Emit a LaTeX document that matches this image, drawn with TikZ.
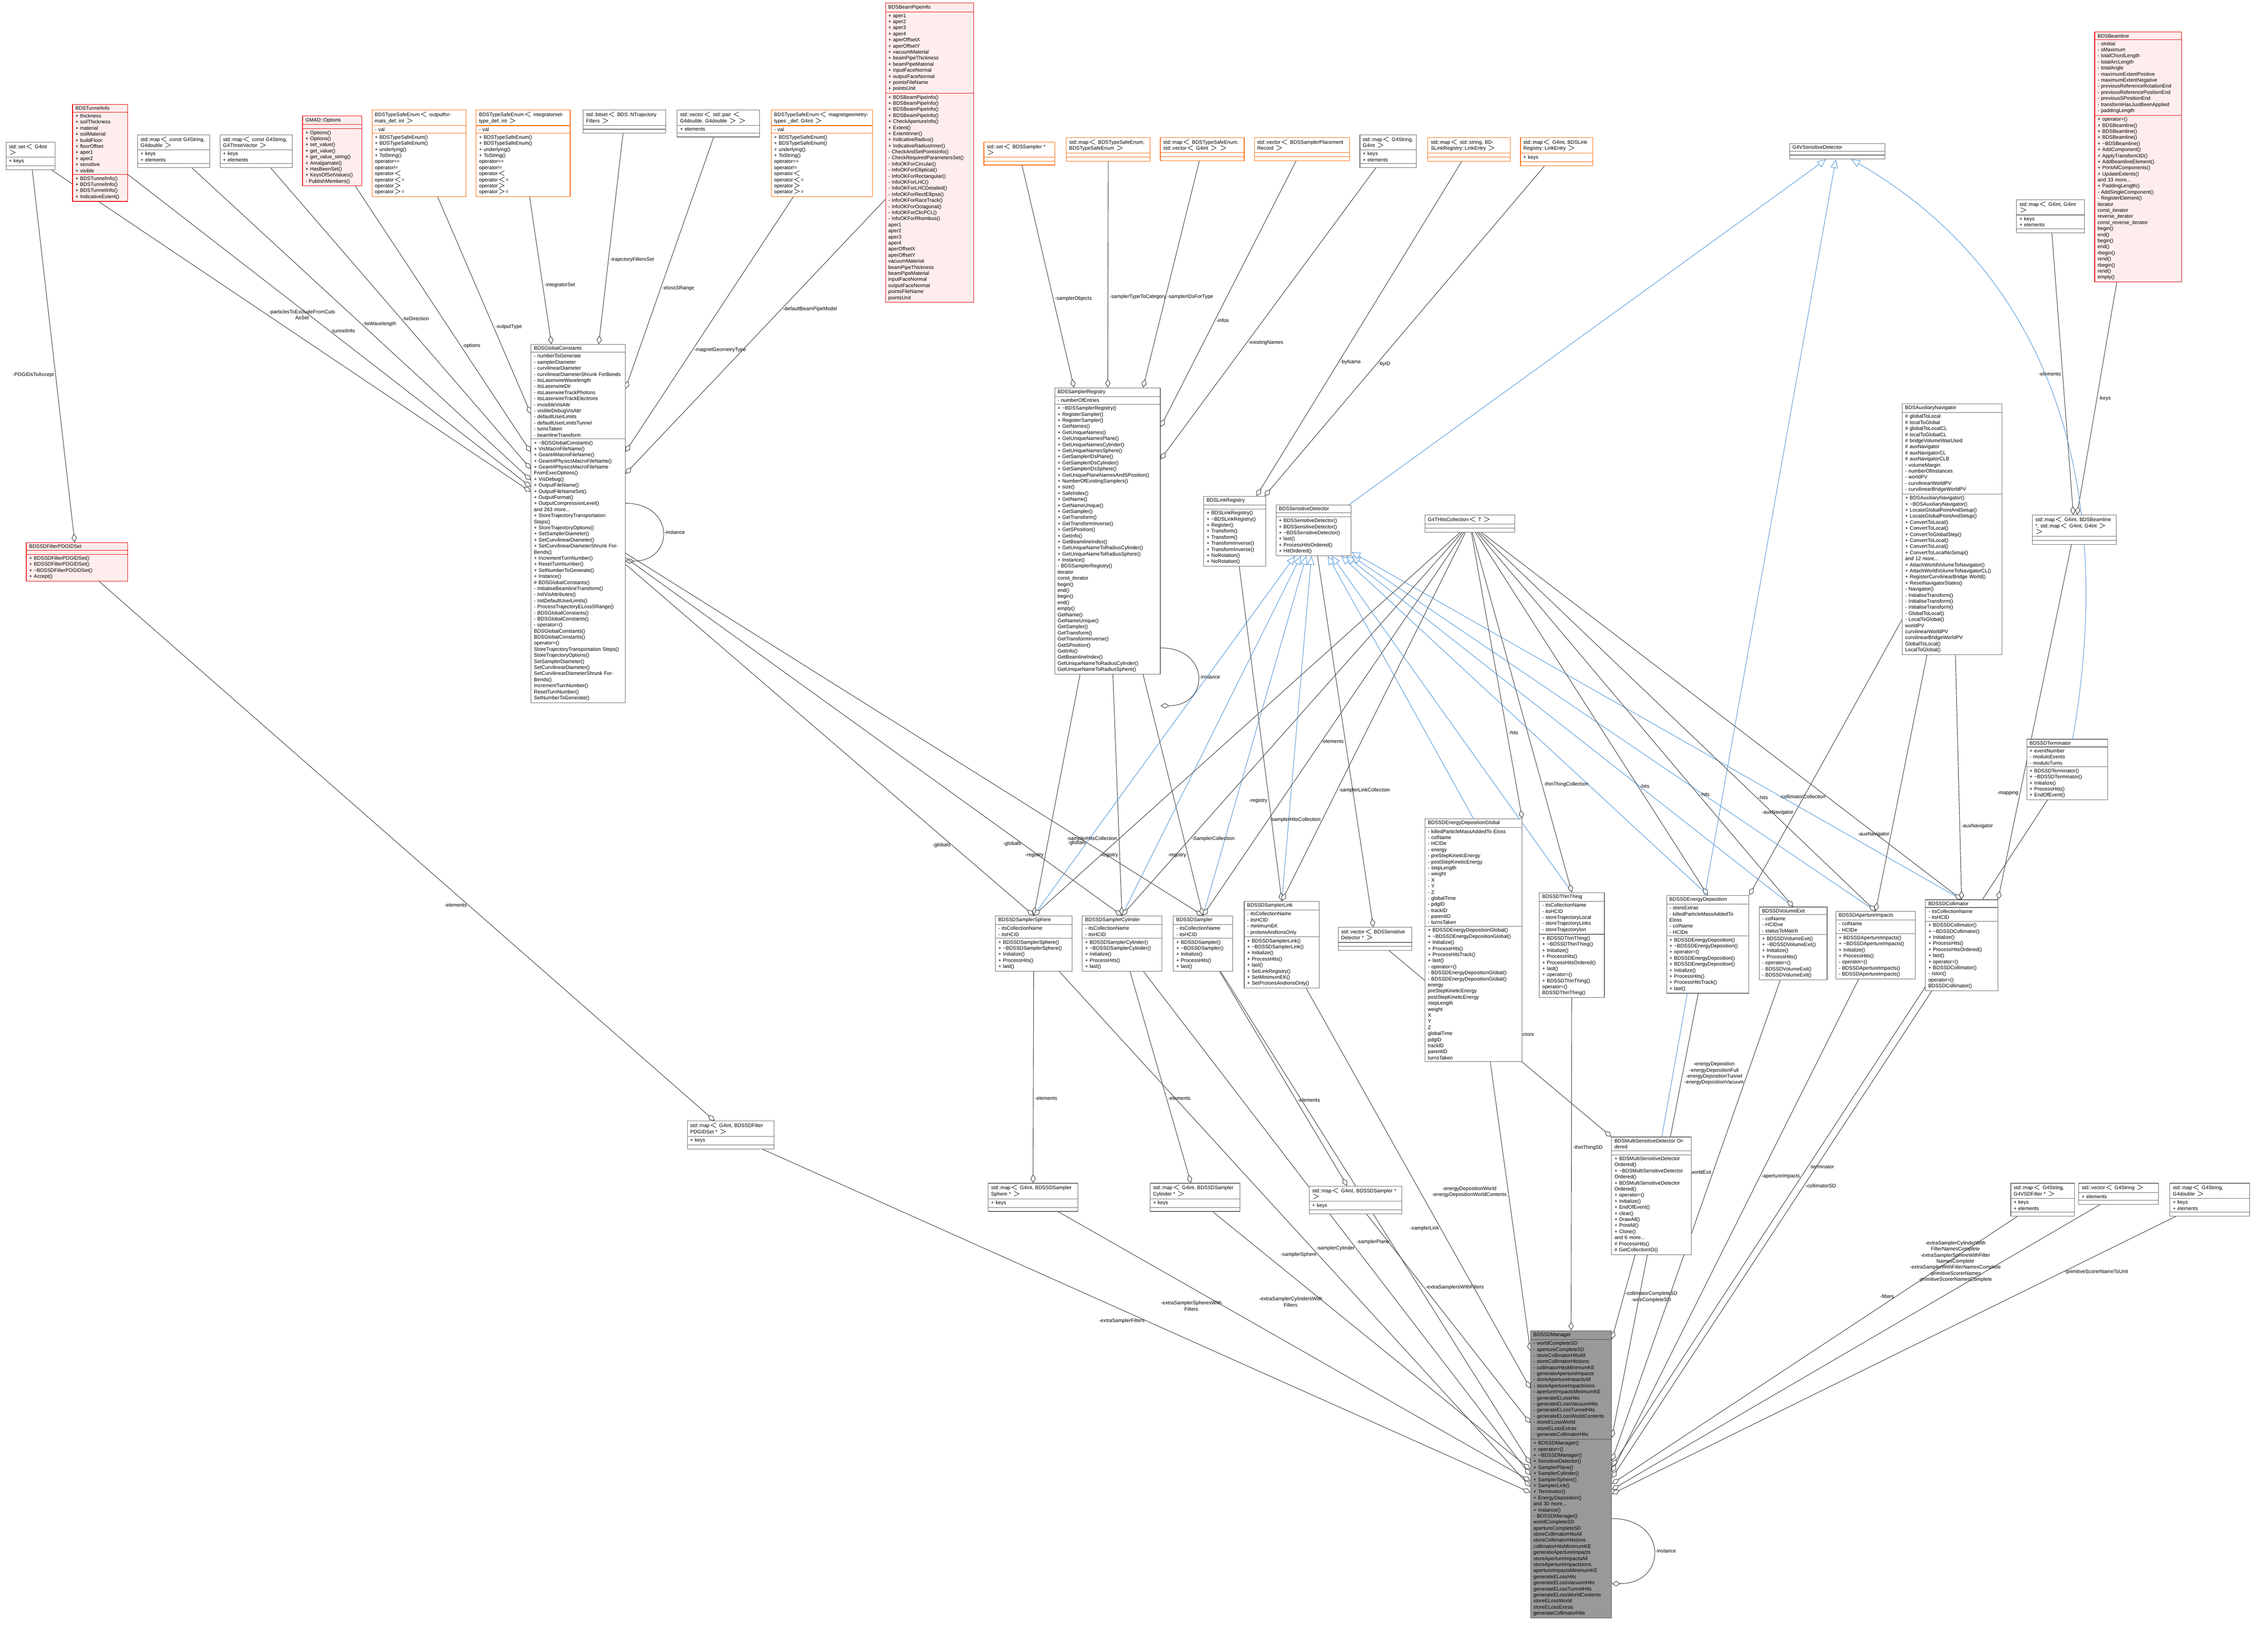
\documentclass[tikz,border=0pt]{standalone}
\usepackage{fontspec}
\setmainfont{Liberation Sans}
\usetikzlibrary{shapes.multipart,arrows.meta}
\pgfdeclarelayer{bg}\pgfsetlayers{bg,main}
\newcommand\tl{\textasciitilde}
\tikzset{
 cls/.style={rectangle split, rectangle split parts=3, draw=black!60, line width=0.35pt, fill=white,
   font=\fontsize{3.5}{4.2}\selectfont, inner xsep=2pt, inner ysep=1.2pt, anchor=north west,
   rectangle split part align={center,left,left}, rectangle split empty part height=6pt},
 redc/.style={draw=red!90!black, fill=red!7},
 orgc/.style={draw=orange!80!red},
 darkc/.style={fill=black!40, draw=black!70},
 agg/.style={draw=black!75, line width=0.35pt, -{Diamond[open,fill=white,length=6pt,width=3.6pt]}},
 inh/.style={draw=cyan!60!blue!70, line width=0.35pt, {Triangle[open,fill=white,length=6pt,width=5pt]}-},
 lbl/.style={font=\fontsize{3.5}{4.2}\selectfont, align=center, inner sep=1pt},
}
\newcommand\cls[7]{\node[cls,#1,text width=#4pt] (#2) at (#3) {#5\nodepart{two}#6\nodepart{three}#7};}
\begin{document}
\begin{tikzpicture}[x=1pt,y=-1pt]
\useasboundingbox (0,0) rectangle (1568,1127);
% ---------- top row
\cls{}{setint}{4,98}{30}{std::set$<$ G4int $>$}{+ keys}{}
\cls{redc}{tunnel}{50,72}{34}{BDSTunnelInfo}{+ thickness\\+ soilThickness\\+ material\\+ soilMaterial\\+ buildFloor\\+ floorOffset\\+ aper1\\+ aper2\\+ sensitive\\+ visible}{+ BDSTunnelInfo()\\+ BDSTunnelInfo()\\+ BDSTunnelInfo()\\+ IndicativeExtent()}
\cls{}{mapsd}{95,93}{46}{std::map$<$ const G4String, G4double $>$}{+ keys\\+ elements}{}
\cls{}{mapstv}{152,93}{46}{std::map$<$ const G4String, G4ThreeVector $>$}{+ keys\\+ elements}{}
\cls{redc}{opts}{209,80}{37}{GMAD::Options}{}{+ Options()\\+ Options()\\+ set\_value()\\+ get\_value()\\+ get\_value\_string()\\+ Amalgamate()\\+ HasBeenSet()\\+ KeysOfSetValues()\\- PublishMembers()}
\cls{orgc}{tseout}{257,76}{61}{BDSTypeSafeEnum$<$ outputformats\_def, int $>$}{- val}{+ BDSTypeSafeEnum()\\+ BDSTypeSafeEnum()\\+ underlying()\\+ ToString()\\* operator==\\* operator!=\\* operator$<$\\* operator$<$=\\* operator$>$\\* operator$>$=}
\cls{orgc}{tseint}{329,76}{61}{BDSTypeSafeEnum$<$ integratorsettype\_def, int $>$}{- val}{+ BDSTypeSafeEnum()\\+ BDSTypeSafeEnum()\\+ underlying()\\+ ToString()\\* operator==\\* operator!=\\* operator$<$\\* operator$<$=\\* operator$>$\\* operator$>$=}
\cls{}{bitset}{403,76}{53}{std::bitset$<$ BDS::NTrajectory Filters $>$}{}{}
\cls{}{vecpair}{468,76}{53}{std::vector$<$ std::pair $<$ G4double, G4double $>$ $>$}{+ elements}{}
\cls{orgc}{tsemag}{533,76}{66}{BDSTypeSafeEnum$<$ magnetgeometrytypes \_def, G4int $>$}{- val}{+ BDSTypeSafeEnum()\\+ BDSTypeSafeEnum()\\+ underlying()\\+ ToString()\\* operator==\\* operator!=\\* operator$<$\\* operator$<$=\\* operator$>$\\* operator$>$=}
\cls{redc}{bpinfo}{612,2}{57}{BDSBeamPipeInfo}{+ aper1\\+ aper2\\+ aper3\\+ aper4\\+ aperOffsetX\\+ aperOffsetY\\+ vacuumMaterial\\+ beamPipeThickness\\+ beamPipeMaterial\\+ inputFaceNormal\\+ outputFaceNormal\\+ pointsFileName\\+ pointsUnit}{+ BDSBeamPipeInfo()\\+ BDSBeamPipeInfo()\\+ BDSBeamPipeInfo()\\+ BDSBeamPipeInfo()\\+ CheckApertureInfo()\\+ Extent()\\+ ExtentInner()\\+ IndicativeRadius()\\+ IndicativeRadiusInner()\\- CheckAndSetPointsInfo()\\- CheckRequiredParametersSet()\\- InfoOKForCircular()\\- InfoOKForElliptical()\\- InfoOKForRectangular()\\- InfoOKForLHC()\\- InfoOKForLHCDetailed()\\- InfoOKForRectEllipse()\\- InfoOKForRaceTrack()\\- InfoOKForOctagonal()\\- InfoOKForClicPCL()\\- InfoOKForRhombus()\\* aper1\\* aper2\\* aper3\\* aper4\\* aperOffsetX\\* aperOffsetY\\* vacuumMaterial\\* beamPipeThickness\\* beamPipeMaterial\\* inputFaceNormal\\* outputFaceNormal\\* pointsFileName\\* pointsUnit}
\cls{orgc}{setsam}{680,98}{45}{std::set$<$ BDSSampler * $>$}{}{}
\cls{orgc}{maptt}{737,95}{54}{std::map$<$ BDSTypeSafeEnum, BDSTypeSafeEnum $>$}{}{}
\cls{orgc}{maptv}{802,95}{54}{std::map$<$ BDSTypeSafeEnum, std::vector$<$ G4int $>$ $>$}{}{}
\cls{orgc}{vecrec}{867,95}{62}{std::vector$<$ BDSSamplerPlacement Record $>$}{}{}
\cls{}{mapsi}{940,93}{35}{std::map$<$ G4String, G4int $>$}{+ keys\\+ elements}{}
\cls{orgc}{maplks}{987,95}{53}{std::map$<$ std::string, BDSLinkRegistry::LinkEntry $>$}{}{}
\cls{orgc}{maplki}{1051,95}{46}{std::map$<$ G4int, BDSLink Registry::LinkEntry $>$}{+ keys}{}
\cls{}{g4vsd}{1237,99}{62}{G4VSensitiveDetector}{}{}
\cls{}{mapii}{1394,138}{43}{std::map$<$ G4int, G4int $>$}{+ keys\\+ elements}{}
\cls{redc}{beamline}{1448,22}{56}{BDSBeamline}{- sInitial\\- sMaximum\\- totalChordLength\\- totalArcLength\\- totalAngle\\- maximumExtentPositive\\- maximumExtentNegative\\- previousReferenceRotationEnd\\- previousReferencePositionEnd\\- previousSPositionEnd\\- transformHasJustBeenApplied\\- paddingLength}{+ operator=()\\+ BDSBeamline()\\+ BDSBeamline()\\+ BDSBeamline()\\+ \tl BDSBeamline()\\+ AddComponent()\\+ ApplyTransform3D()\\+ AddBeamlineElement()\\+ PrintAllComponents()\\+ UpdateExtents()\\and 33 more...\\+ PaddingLength()\\- AddSingleComponent()\\- RegisterElement()\\* iterator\\* const\_iterator\\* reverse\_iterator\\* const\_reverse\_iterator\\* begin()\\* end()\\* begin()\\* end()\\* rbegin()\\* rend()\\* rbegin()\\* rend()\\* empty()}
% ---------- middle
\cls{redc}{pdgset}{18,375}{66}{BDSSDFilterPDGIDSet}{}{+ BDSSDFilterPDGIDSet()\\+ BDSSDFilterPDGIDSet()\\+ \tl BDSSDFilterPDGIDSet()\\+ Accept()}
\cls{}{gc}{367,238}{61}{BDSGlobalConstants}{- numberToGenerate\\- samplerDiameter\\- curvilinearDiameter\\- curvilinearDiameterShrunk ForBends\\- itsLaserwireWavelength\\- itsLaserwireDir\\- itsLaserwireTrackPhotons\\- itsLaserwireTrackElectrons\\- invisibleVisAttr\\- visibleDebugVisAttr\\- defaultUserLimits\\- defaultUserLimitsTunnel\\- turnsTaken\\- beamlineTransform}{+ \tl BDSGlobalConstants()\\+ VisMacroFileName()\\+ Geant4MacroFileName()\\+ Geant4PhysicsMacroFileName()\\+ Geant4PhysicsMacroFileName FromExecOptions()\\+ VisDebug()\\+ OutputFileName()\\+ OutputFileNameSet()\\+ OutputFormat()\\+ OutputCompressionLevel()\\and 263 more...\\+ StoreTrajectoryTransportation Steps()\\+ StoreTrajectoryOptions()\\+ SetSamplerDiameter()\\+ SetCurvilinearDiameter()\\+ SetCurvilinearDiameterShrunk ForBends()\\+ IncrementTurnNumber()\\+ ResetTurnNumber()\\+ SetNumberToGenerate()\\+ Instance()\\\# BDSGlobalConstants()\\- InitialiseBeamlineTransform()\\- InitVisAttributes()\\- InitDefaultUserLimits()\\- ProcessTrajectoryELossSRange()\\- BDSGlobalConstants()\\- BDSGlobalConstants()\\- operator=()\\* BDSGlobalConstants()\\* BDSGlobalConstants()\\* operator=()\\* StoreTrajectoryTransportation Steps()\\* StoreTrajectoryOptions()\\* SetSamplerDiameter()\\* SetCurvilinearDiameter()\\* SetCurvilinearDiameterShrunk ForBends()\\* IncrementTurnNumber()\\* ResetTurnNumber()\\* SetNumberToGenerate()}
\cls{}{sr}{729,268}{69}{BDSSamplerRegistry}{- numberOfEntries}{+ \tl BDSSamplerRegistry()\\+ RegisterSampler()\\+ RegisterSampler()\\+ GetNames()\\+ GetUniqueNames()\\+ GetUniqueNamesPlane()\\+ GetUniqueNamesCylinder()\\+ GetUniqueNamesSphere()\\+ GetSamplerIDsPlane()\\+ GetSamplerIDsCylinder()\\+ GetSamplerIDsSphere()\\+ GetUniquePlaneNamesAndSPosition()\\+ NumberOfExistingSamplers()\\+ size()\\+ SafeIndex()\\+ GetName()\\+ GetNameUnique()\\+ GetSampler()\\+ GetTransform()\\+ GetTransformInverse()\\+ GetSPosition()\\+ GetInfo()\\+ GetBeamlineIndex()\\+ GetUniqueNameToRadiusCylinder()\\+ GetUniqueNameToRadiusSphere()\\+ Instance()\\- BDSSamplerRegistry()\\* iterator\\* const\_iterator\\* begin()\\* end()\\* begin()\\* end()\\* empty()\\* GetName()\\* GetNameUnique()\\* GetSampler()\\* GetTransform()\\* GetTransformInverse()\\* GetSPosition()\\* GetInfo()\\* GetBeamlineIndex()\\* GetUniqueNameToRadiusCylinder()\\* GetUniqueNameToRadiusSphere()}
\cls{}{lr}{832,343}{39}{BDSLinkRegistry}{}{+ BDSLinkRegistry()\\+ \tl BDSLinkRegistry()\\+ Register()\\+ Transform()\\+ Transform()\\+ TransformInverse()\\+ TransformInverse()\\+ NoRotation()\\+ NoRotation()}
\cls{}{sd}{882,349}{48}{BDSSensitiveDetector}{}{+ BDSSensitiveDetector()\\+ BDSSensitiveDetector()\\+ \tl BDSSensitiveDetector()\\+ last()\\+ ProcessHitsOrdered()\\+ HitOrdered()}
\cls{}{hc}{985,356}{58}{G4THitsCollection$<$ T $>$}{}{}
\cls{}{aux}{1315,279}{65}{BDSAuxiliaryNavigator}{\# globalToLocal\\\# localToGlobal\\\# globalToLocalCL\\\# localToGlobalCL\\\# bridgeVolumeWasUsed\\\# auxNavigator\\\# auxNavigatorCL\\\# auxNavigatorCLB\\- volumeMargin\\- numberOfInstances\\- worldPV\\- curvilinearWorldPV\\- curvilinearBridgeWorldPV}{+ BDSAuxiliaryNavigator()\\+ \tl BDSAuxiliaryNavigator()\\+ LocateGlobalPointAndSetup()\\+ LocateGlobalPointAndSetup()\\+ ConvertToLocal()\\+ ConvertToLocal()\\+ ConvertToGlobalStep()\\+ ConvertToLocal()\\+ ConvertToLocal()\\+ ConvertToLocalNoSetup()\\and 12 more...\\+ AttachWorldVolumeToNavigator()\\+ AttachWorldVolumeToNavigatorCL()\\+ RegisterCurvilinearBridge World()\\+ ResetNavigatorStates()\\- Navigator()\\- InitialiseTransform()\\- InitialiseTransform()\\- InitialiseTransform()\\- GlobalToLocal()\\- LocalToGlobal()\\* worldPV\\* curvilinearWorldPV\\* curvilinearBridgeWorldPV\\* GlobalToLocal()\\* LocalToGlobal()}
\cls{}{mapbl}{1405,356}{54}{std::map$<$ G4int, BDSBeamline *, std::map$<$ G4int, G4int $>$ $>$}{}{}
\cls{}{term}{1401,511}{52}{BDSSDTerminator}{+ eventNumber\\- moduloEvents\\- moduloTurns}{+ BDSSDTerminator()\\+ \tl BDSSDTerminator()\\+ Initialize()\\+ ProcessHits()\\+ EndOfEvent()}
% ---------- SD row
\cls{}{sph}{688,633}{49}{BDSSDSamplerSphere}{- itsCollectionName\\- itsHCID}{+ BDSSDSamplerSphere()\\+ \tl BDSSDSamplerSphere()\\+ Initialize()\\+ ProcessHits()\\+ last()}
\cls{}{cyl}{748,633}{51}{BDSSDSamplerCylinder}{- itsCollectionName\\- itsHCID}{+ BDSSDSamplerCylinder()\\+ \tl BDSSDSamplerCylinder()\\+ Initialize()\\+ ProcessHits()\\+ last()}
\cls{}{smp}{811,633}{37}{BDSSDSampler}{- itsCollectionName\\- itsHCID}{+ BDSSDSampler()\\+ \tl BDSSDSampler()\\+ Initialize()\\+ ProcessHits()\\+ last()}
\cls{}{link}{860,623}{48}{BDSSDSamplerLink}{- itsCollectionName\\- itsHCID\\- minimumEK\\- protonsAndIonsOnly}{+ BDSSDSamplerLink()\\+ \tl BDSSDSamplerLink()\\+ Initialize()\\+ ProcessHits()\\+ last()\\+ SetLinkRegistry()\\+ SetMinimumEK()\\+ SetProtonsAndIonsOnly()}
\cls{}{vecsd}{925,641}{47}{std::vector$<$ BDSSensitive Detector * $>$}{}{}
\cls{}{edg}{985,566}{63}{BDSSDEnergyDepositionGlobal}{- killedParticleMassAddedTo Eloss\\- colName\\- HCIDe\\- energy\\- preStepKineticEnergy\\- postStepKineticEnergy\\- stepLength\\- weight\\- X\\- Y\\- Z\\- globalTime\\- pdgID\\- trackID\\- parentID\\- turnsTaken}{+ BDSSDEnergyDepositionGlobal()\\+ \tl BDSSDEnergyDepositionGlobal()\\+ Initialize()\\+ ProcessHits()\\+ ProcessHitsTrack()\\+ last()\\- operator=()\\- BDSSDEnergyDepositionGlobal()\\- BDSSDEnergyDepositionGlobal()\\* energy\\* preStepKineticEnergy\\* postStepKineticEnergy\\* stepLength\\* weight\\* X\\* Y\\* Z\\* globalTime\\* pdgID\\* trackID\\* parentID\\* turnsTaken}
\cls{}{thin}{1064,617}{41}{BDSSDThinThing}{- itsCollectionName\\- itsHCID\\- storeTrajectoryLocal\\- storeTrajectoryLinks\\- storeTrajectoryIon}{+ BDSSDThinThing()\\+ \tl BDSSDThinThing()\\+ Initialize()\\+ ProcessHits()\\+ ProcessHitsOrdered()\\+ last()\\+ operator=()\\+ BDSSDThinThing()\\* operator=()\\* BDSSDThinThing()}
\cls{}{ed}{1152,619}{53}{BDSSDEnergyDeposition}{- storeExtras\\- killedParticleMassAddedTo Eloss\\- colName\\- HCIDe}{+ BDSSDEnergyDeposition()\\+ \tl BDSSDEnergyDeposition()\\+ operator=()\\+ BDSSDEnergyDeposition()\\+ BDSSDEnergyDeposition()\\+ Initialize()\\+ ProcessHits()\\+ ProcessHitsTrack()\\+ last()}
\cls{}{vexit}{1216,627}{43}{BDSSDVolumeExit}{- colName\\- HCIDve\\- statusToMatch}{+ BDSSDVolumeExit()\\+ \tl BDSSDVolumeExit()\\+ Initialize()\\+ ProcessHits()\\- operator=()\\- BDSSDVolumeExit()\\- BDSSDVolumeExit()}
\cls{}{ap}{1269,630}{51}{BDSSDApertureImpacts}{- colName\\- HCIDe}{+ BDSSDApertureImpacts()\\+ \tl BDSSDApertureImpacts()\\+ Initialize()\\+ ProcessHits()\\- operator=()\\- BDSSDApertureImpacts()\\- BDSSDApertureImpacts()}
\cls{}{coll}{1331,622}{46}{BDSSDCollimator}{- itsCollectionName\\- itsHCID}{+ BDSSDCollimator()\\+ \tl BDSSDCollimator()\\+ Initialize()\\+ ProcessHits()\\+ ProcessHitsOrdered()\\+ last()\\+ operator=()\\+ BDSSDCollimator()\\- IsIon()\\* operator=()\\* BDSSDCollimator()}
% ---------- lower
\cls{}{mappdg}{475,775}{56}{std::map$<$ G4int, BDSSDFilter PDGIDSet * $>$}{+ keys}{}
\cls{}{mapsph}{683,818}{58}{std::map$<$ G4int, BDSSDSampler Sphere * $>$}{+ keys}{}
\cls{}{mapcyl}{795,818}{58}{std::map$<$ G4int, BDSSDSampler Cylinder * $>$}{+ keys}{}
\cls{}{mapsmp}{905,820}{60}{std::map$<$ G4int, BDSSDSampler * $>$}{+ keys}{}
\cls{}{msd}{1114,786}{51}{BDSMultiSensitiveDetector Ordered}{}{+ BDSMultiSensitiveDetector Ordered()\\+ \tl BDSMultiSensitiveDetector Ordered()\\+ BDSMultiSensitiveDetector Ordered()\\+ operator=()\\+ Initialize()\\+ EndOfEvent()\\+ clear()\\+ DrawAll()\\+ PrintAll()\\+ Clone()\\and 6 more...\\\# ProcessHits()\\\# GetCollectionID()}
\cls{}{mapflt}{1390,818}{40}{std::map$<$ G4String, G4VSDFilter * $>$}{+ keys\\+ elements}{}
\cls{}{vecstr}{1437,818}{51}{std::vector$<$ G4String $>$}{+ elements}{}
\cls{}{mapsdbl}{1500,818}{51}{std::map$<$ G4String, G4double $>$}{+ keys\\+ elements}{}
\cls{darkc}{mgr}{1058,920}{52}{BDSSDManager}{- worldCompleteSD\\- apertureCompleteSD\\- storeCollimatorHitsAll\\- storeCollimatorHitsIons\\- collimatorHitsMinimumKE\\- generateApertureImpacts\\- storeApertureImpactsAll\\- storeApertureImpactsIons\\- apertureImpactsMinimumKE\\- generateELossHits\\- generateELossVacuumHits\\- generateELossTunnelHits\\- generateELossWorldContents\\- storeELossWorld\\- storeELossExtras\\- generateCollimatorHits}{+ BDSSDManager()\\+ operator=()\\+ \tl BDSSDManager()\\+ SensitiveDetector()\\+ SamplerPlane()\\+ SamplerCylinder()\\+ SamplerSphere()\\+ SamplerLink()\\+ Terminator()\\+ EnergyDeposition()\\and 30 more...\\+ Instance()\\- BDSSDManager()\\* worldCompleteSD\\* apertureCompleteSD\\* storeCollimatorHitsAll\\* storeCollimatorHitsIons\\* collimatorHitsMinimumKE\\* generateApertureImpacts\\* storeApertureImpactsAll\\* storeApertureImpactsIons\\* apertureImpactsMinimumKE\\* generateELossHits\\* generateELossVacuumHits\\* generateELossTunnelHits\\* generateELossWorldContents\\* storeELossWorld\\* storeELossExtras\\* generateCollimatorHits}
\begin{pgfonlayer}{bg}
% ---------- edges to globals
\draw[agg] (setint) -- node[lbl,pos=0.55,left]{-PDGIDsToAccept} (pdgset);
\draw[agg] (setint) -- node[lbl,pos=0.45,right]{-particlesToExcludeFromCuts\\AsSet} (gc);
\draw[agg] (tunnel) -- node[lbl,pos=0.5,right]{-tunnelInfo} (gc);
\draw[agg] (mapsd) -- node[lbl,pos=0.5,right]{-lwWavelength} (gc);
\draw[agg] (mapstv) -- node[lbl,pos=0.5,right]{-lwDirection} (gc);
\draw[agg] (opts) -- node[lbl,pos=0.6,right]{-options} (gc);
\draw[agg] (tseout) -- node[lbl,pos=0.6,right]{-outputType} (gc);
\draw[agg] (tseint) -- node[lbl,pos=0.6,right]{-integratorSet} (gc);
\draw[agg] (bitset) -- node[lbl,pos=0.6,right]{-trajectoryFiltersSet} (gc);
\draw[agg] (vecpair) -- node[lbl,pos=0.6,right]{-elossSRange} (gc);
\draw[agg] (tsemag) -- node[lbl,pos=0.6,right]{-magnetGeometryType} (gc);
\draw[agg] (bpinfo) -- node[lbl,pos=0.4,right]{-defaultBeamPipeModel} (gc);
\draw[agg] ([yshift=-110pt]gc.north east) to[out=0,in=0,looseness=2.2] node[lbl,right]{-instance} ([yshift=-150pt]gc.north east);
% ---------- sampler registry
\draw[agg] (setsam) -- node[lbl,pos=0.6,right]{-samplerObjects} (sr);
\draw[agg] (maptt) -- node[lbl,pos=0.6,right]{-samplerTypeToCategory} (sr);
\draw[agg] (maptv) -- node[lbl,pos=0.6,right]{-samplerIDsForType} (sr);
\draw[agg] (vecrec) -- node[lbl,pos=0.6,right]{-infos} (sr);
\draw[agg] (mapsi) -- node[lbl,pos=0.6,right]{-existingNames} (sr);
\draw[agg] (maplks) -- node[lbl,pos=0.6,right]{-byName} (lr);
\draw[agg] (maplki) -- node[lbl,pos=0.6,right]{-byID} (lr);
\draw[agg] ([yshift=-180pt]sr.north east) to[out=0,in=0,looseness=2.2] node[lbl,right]{-instance} ([yshift=-220pt]sr.north east);
\draw[agg] (mapii) -- node[lbl,pos=0.5,left]{-elements} (mapbl);
\draw[agg] (beamline) -- node[lbl,pos=0.5,right]{-keys} (mapbl);
% ---------- inheritance
\draw[inh] (g4vsd) -- (sd);
\draw[inh] (g4vsd) -- (msd);
\draw[inh] (g4vsd) to[out=-30,in=80] (term);
\foreach \t in {sph,cyl,smp,link,edg,thin,ed,vexit,ap,coll}{\draw[inh] (sd) -- (\t.north);}
% ---------- SD members
\foreach \t in {sph,cyl,smp}{\draw[agg] (gc) -- node[lbl,pos=0.8,left]{-globals} (\t.north);}
\foreach \t in {sph,cyl,smp}{\draw[agg] (sr) -- node[lbl,pos=0.75,left]{-registry} (\t.north);}
\draw[agg] (lr) -- node[lbl,pos=0.7,left]{-registry} (link.north);
\draw[agg] (hc) -- node[lbl,pos=0.8,left]{-samplerHitsCollection} (sph.north);
\draw[agg] (hc) -- node[lbl,pos=0.8,right]{-SamplerCollection} (cyl.north);
\draw[agg] (hc) -- node[lbl,pos=0.75,right]{-samplerHitsCollection} (smp.north);
\draw[agg] (hc) -- node[lbl,pos=0.7,right]{-samplerLinkCollection} (link.north);
\draw[agg] (hc) -- node[lbl,pos=0.7,right]{-hits} (edg.north east);
\draw[agg] (hc) -- node[lbl,pos=0.7,right]{-thinThingCollection} (thin.north);
\draw[agg] (hc) -- node[lbl,pos=0.7,right]{-hits} (ed.north);
\draw[agg] (hc) -- node[lbl,pos=0.7,right]{-hits} (vexit.north);
\draw[agg] (hc) -- node[lbl,pos=0.7,right]{-hits} (ap.north);
\draw[agg] (hc) -- node[lbl,pos=0.72,left]{-collimatorCollection} (coll.north);
\draw[agg] (aux) -- node[lbl,pos=0.7,left]{-auxNavigator} (ed.north east);
\draw[agg] (aux) -- node[lbl,pos=0.7,left]{-auxNavigator} (ap.north);
\draw[agg] (aux) -- node[lbl,pos=0.7,right]{-auxNavigator} (coll.north);
\draw[agg] (mapbl) -- node[lbl,pos=0.7,left]{-mapping} (coll.north east);
\draw[agg] (sd) -- node[lbl,pos=0.5,left]{-elements} (vecsd);
\draw[agg] (vecsd) -- node[lbl,pos=0.45,right]{-sensitiveDetectors} (msd.north west);
\draw[agg] (pdgset) -- node[lbl,pos=0.6,left]{-elements} (mappdg);
\draw[agg] (sph) -- node[lbl,pos=0.6,right]{-elements} (mapsph);
\draw[agg] (cyl) -- node[lbl,pos=0.6,right]{-elements} (mapcyl);
\draw[agg] (smp) -- node[lbl,pos=0.6,right]{-elements} (mapsmp);
% ---------- manager (left side)
\draw[agg] (mappdg) -- node[lbl,pos=0.5,left]{-extraSamplerFilters} ([yshift=-112pt]mgr.north west);
\draw[agg] (sph) -- node[lbl,pos=0.55,left]{-samplerSphere} ([yshift=-108pt]mgr.north west);
\draw[agg] (mapsph) -- node[lbl,pos=0.35,left]{-extraSamplerSpheresWith\\Filters} ([yshift=-104pt]mgr.north west);
\draw[agg] (cyl) -- node[lbl,pos=0.55,left]{-samplerCylinder} ([yshift=-100pt]mgr.north west);
\draw[agg] (mapcyl) -- node[lbl,pos=0.35,left]{-extraSamplerCylindersWith\\Filters} ([yshift=-96pt]mgr.north west);
\draw[agg] (smp) -- node[lbl,pos=0.55,left]{-samplerPlane} ([yshift=-92pt]mgr.north west);
\draw[agg] (mapsmp) -- node[lbl,pos=0.35,right]{-extraSamplersWithFilters} ([yshift=-64pt]mgr.north west);
\draw[agg] (link) -- node[lbl,pos=0.6,left]{-samplerLink} ([yshift=-40pt]mgr.north west);
\draw[agg] (edg) -- node[lbl,pos=0.45,left]{-energyDepositionWorld\\-energyDepositionWorldContents} ([yshift=-14pt]mgr.north west);
\draw[agg] (thin) -- node[lbl,pos=0.45,right]{-thinThingSD} (mgr.north);
% ---------- manager (right side)
\draw[agg] (msd) -- node[lbl,pos=0.5,right]{-collimatorCompleteSD\\-wireCompleteSD} ([yshift=-6pt]mgr.north east);
\draw[agg] (ed) -- node[lbl,pos=0.18,right]{-energyDeposition\\-energyDepositionFull\\-energyDepositionTunnel\\-energyDepositionVacuum} ([yshift=-74pt]mgr.north east);
\draw[agg] (vexit) -- node[lbl,pos=0.4,left]{-worldExit} ([yshift=-90pt]mgr.north east);
\draw[agg] (ap) -- node[lbl,pos=0.4,right]{-apertureImpacts} ([yshift=-98pt]mgr.north east);
\draw[agg] (coll) -- node[lbl,pos=0.4,right]{-collimatorSD} ([yshift=-102pt]mgr.north east);
\draw[agg] (term) -- node[lbl,pos=0.55,right]{-terminator} ([yshift=-94pt]mgr.north east);
\draw[agg] (mapflt) -- node[lbl,pos=0.3,left]{-filters} ([yshift=-106pt]mgr.north east);
\draw[agg] (vecstr) -- node[lbl,pos=0.2,left]{-extraSamplerCylinderWith\\FilterNamesComplete\\-extraSamplerSphereWithFilter\\NamesComplete\\-extraSamplerWithFilterNamesComplete\\-primitiveScorerNames\\-primitiveScorerNamesComplete} ([yshift=-110pt]mgr.north east);
\draw[agg] (mapsdbl) -- node[lbl,pos=0.2,right]{-primitiveScorerNameToUnit} ([yshift=-113pt]mgr.north east);
\draw[agg] ([yshift=-130pt]mgr.north east) to[out=0,in=0,looseness=2.2] node[lbl,right]{-instance} ([yshift=-175pt]mgr.north east);
\end{pgfonlayer}
\end{tikzpicture}
\end{document}
